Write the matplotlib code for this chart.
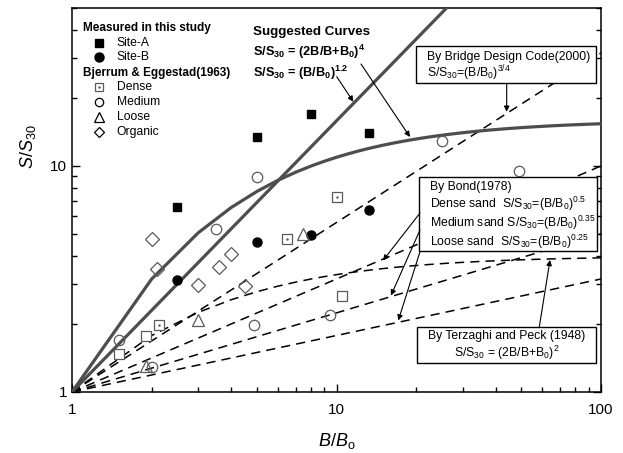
import numpy as np
import matplotlib
matplotlib.use('Agg')
import matplotlib.pyplot as plt
from matplotlib.patches import Rectangle

plt.rcParams['font.family'] = ['Liberation Sans', 'DejaVu Sans']
plt.rcParams['mathtext.fontset'] = 'custom'
plt.rcParams['mathtext.rm'] = 'Liberation Sans'
plt.rcParams['mathtext.it'] = 'Liberation Sans:italic'
plt.rcParams['mathtext.bf'] = 'Liberation Sans:bold'

site_a_x = [2.5, 5.0, 8.0, 13.3]
site_a_y = [6.6, 13.4, 16.9, 14.0]
site_b_x = [2.5, 5.0, 8.0, 13.3]
site_b_y = [3.13, 4.62, 4.95, 6.39]

# Bjerrum & Eggestad (1963)
dense_x = [1.5, 1.9, 2.14, 6.48, 10.0, 10.5]
dense_y = [1.48, 1.77, 1.98, 4.76, 7.27, 2.67]
dense_dot = [False, False, True, True, True, False]
medium_x = [1.5, 2.0, 3.49, 4.89, 5.0, 9.45, 25.0, 48.9]
medium_y = [1.69, 1.29, 5.25, 1.98, 8.97, 2.19, 12.9, 9.5]
loose_x = [1.9, 3.0, 7.49]
loose_y = [1.30, 2.09, 5.0]
organic_x = [2.0, 2.09, 3.0, 3.61, 3.99, 4.52]
organic_y = [4.74, 3.49, 2.97, 3.56, 4.07, 2.94]

# curve definitions shown on the chart
suggested_exp = 1.2
suggested_pow = 4
bridge_exp = 0.75
bond_exps = [0.5, 0.35, 0.25]
terzaghi_pow = 2

bb = np.arange(1, 101).astype(float)

fig = plt.figure(figsize=(6.23, 4.53), dpi=100)
ax = fig.add_axes([0.1156, 0.1347, 0.8491, 0.8476])

GRAY = '#4d4d4d'
MGRAY = '#5a5a5a'
dash = (0, (6, 4))

# suggested curves
ax.plot(bb, bb ** suggested_exp, color=GRAY, lw=2.3, zorder=3)
ax.plot(bb, (2 * bb / (bb + 1)) ** suggested_pow, color=GRAY, lw=2.3, zorder=3)

# dashed reference curves
ax.plot(bb, bb ** bridge_exp, color='k', lw=1.1, linestyle=dash, zorder=2)
for e in bond_exps:
    ax.plot(bb, bb ** e, color='k', lw=1.1, linestyle=dash, zorder=2)
ax.plot(bb, (2 * bb / (bb + 1)) ** terzaghi_pow, color='k', lw=1.1, linestyle=dash, zorder=2)

# data points
ax.plot(site_a_x, site_a_y, 's', color='k', ms=6, zorder=4)
ax.plot(site_b_x, site_b_y, 'o', color='k', ms=6.5, zorder=4)
ax.plot(dense_x, dense_y, 's', mfc='white', mec=MGRAY, mew=0.9, ms=6.5, zorder=4)
dx = [x for x, d in zip(dense_x, dense_dot) if d]
dy = [y for y, d in zip(dense_y, dense_dot) if d]
ax.plot(dx, dy, '.', color=MGRAY, ms=1.5, zorder=5)
ax.plot(medium_x, medium_y, 'o', mfc='none', mec=MGRAY, mew=0.9, ms=7.5, zorder=4)
ax.plot(loose_x, loose_y, '^', mfc='none', mec=MGRAY, mew=0.9, ms=8, zorder=4)
ax.plot(organic_x, organic_y, 'D', mfc='none', mec=MGRAY, mew=0.9, ms=7, zorder=4)

ax.set_xscale('log')
ax.set_yscale('log')
ax.set_xlim(1, 100)
ax.set_ylim(1, 50)

ax.set_xticks([1, 10, 100])
ax.set_xticklabels(['1', '10', '100'])
ax.set_yticks([1, 10])
ax.set_yticklabels(['1', '10'])
ax.tick_params(which='both', direction='in', right=True, top=False, labelsize=11, width=1)
ax.tick_params(which='major', length=6)
ax.tick_params(which='minor', length=3.5)
ax.tick_params(axis='x', pad=8)
ax.yaxis.set_minor_formatter(matplotlib.ticker.NullFormatter())
ax.xaxis.set_minor_formatter(matplotlib.ticker.NullFormatter())
for s in ax.spines.values():
    s.set_linewidth(1.1)

ax.set_xlabel(r'$\mathit{B/B}_{\mathrm{o}}$', fontsize=13, labelpad=10)
ax.set_ylabel(r'$\mathit{S/S}_{\mathrm{30}}$', fontsize=13)
ax.yaxis.set_label_coords(-0.065, 0.64)

T = ax.transAxes

# legend (drawn by hand)
ax.text(0.0202, 0.9479, 'Measured in this study', transform=T, fontsize=8.5, fontweight='bold', va='center')
ax.plot(0.0516, 0.9089, 's', color='k', ms=6, transform=T)
ax.text(0.0845, 0.9089, 'Site-A', transform=T, fontsize=8.7, va='center')
ax.plot(0.0516, 0.8724, 'o', color='k', ms=6.5, transform=T)
ax.text(0.0845, 0.8724, 'Site-B', transform=T, fontsize=8.7, va='center')
ax.text(0.0202, 0.8307, 'Bjerrum & Eggestad(1963)', transform=T, fontsize=8.5, fontweight='bold', va='center')
ax.plot(0.0516, 0.7943, 's', mfc='white', mec=MGRAY, mew=0.9, ms=5.5, transform=T)
ax.plot(0.0516, 0.7943, '.', color=MGRAY, ms=1.5, transform=T)
ax.text(0.0845, 0.7943, 'Dense', transform=T, fontsize=8.7, va='center')
ax.plot(0.0516, 0.7552, 'o', mfc='none', mec='k', mew=0.9, ms=6, transform=T)
ax.text(0.0845, 0.7552, 'Medium', transform=T, fontsize=8.7, va='center')
ax.plot(0.0516, 0.7161, '^', mfc='none', mec='k', mew=0.9, ms=6.5, transform=T)
ax.text(0.0845, 0.7161, 'Loose', transform=T, fontsize=8.7, va='center')
ax.plot(0.0516, 0.6771, 'D', mfc='none', mec='k', mew=0.9, ms=5.5, transform=T)
ax.text(0.0845, 0.6771, 'Organic', transform=T, fontsize=8.7, va='center')

# suggested curves labels
ax.text(0.3416, 0.9375, 'Suggested Curves', transform=T, fontsize=9.6, fontweight='bold', va='center')
ax.text(0.3416, 0.8854, r'S/S$_\mathbf{30}$ = (2B/B+B$_\mathbf{0}$)$^\mathbf{4}$', transform=T,
        fontsize=9.2, fontweight='bold', va='center')
ax.text(0.3416, 0.8320, r'S/S$_\mathbf{30}$ = (B/B$_\mathbf{0}$)$^\mathbf{1.2}$', transform=T,
        fontsize=9.2, fontweight='bold', va='center')

# boxes
boxes = [(0.6503, 0.8039, 0.9905, 0.9010),
         (0.6565, 0.3672, 0.9930, 0.5607),
         (0.6527, 0.0747, 0.9905, 0.1701)]
for x0, y0, x1, y1 in boxes:
    ax.add_patch(Rectangle((x0, y0), x1 - x0, y1 - y0, transform=T, facecolor='white',
                           edgecolor='k', lw=1.0, zorder=6))

ax.text(0.6717, 0.8732, 'By Bridge Design Code(2000)', transform=T, fontsize=8.8, va='center', zorder=7)
ax.text(0.6717, 0.8299, r'S/S$_{30}$=(B/B$_0$)$^{3/4}$', transform=T, fontsize=8.8, va='center', zorder=7)

ax.text(0.6767, 0.5346, 'By Bond(1978)', transform=T, fontsize=8.8, va='center', zorder=7)
ax.text(0.6767, 0.4888, r'Dense sand  S/S$_{30}$=(B/B$_0$)$^{0.5}$', transform=T, fontsize=8.8, va='center', zorder=7)
ax.text(0.6767, 0.4409, r'Medium sand S/S$_{30}$=(B/B$_0$)$^{0.35}$', transform=T, fontsize=8.8, va='center', zorder=7)
ax.text(0.6767, 0.3914, r'Loose sand  S/S$_{30}$=(B/B$_0$)$^{0.25}$', transform=T, fontsize=8.8, va='center', zorder=7)

ax.text(0.8216, 0.1458, 'By Terzaghi and Peck (1948)', transform=T, fontsize=8.8, va='center', ha='center', zorder=7)
ax.text(0.8216, 0.1008, r'S/S$_{30}$ = (2B/B+B$_0$)$^2$', transform=T, fontsize=8.8, va='center', ha='center', zorder=7)

# arrows (tail -> head, axes fraction)
arrows = [((0.5463, 0.8542), (0.6389, 0.6641)),
          ((0.5004, 0.8211), (0.5318, 0.7560)),
          ((0.8217, 0.8039), (0.8217, 0.7299)),
          ((0.6578, 0.4661), (0.5879, 0.3424)),
          ((0.6578, 0.4219), (0.6030, 0.2513)),
          ((0.6578, 0.3654), (0.6168, 0.1862)),
          ((0.8834, 0.1701), (0.9036, 0.3438))]
for tail, head in arrows:
    ax.annotate('', xy=head, xycoords='axes fraction', xytext=tail, textcoords='axes fraction',
                arrowprops=dict(arrowstyle='-|>', color='k', lw=0.8, mutation_scale=8,
                                shrinkA=0, shrinkB=0), zorder=7)

fig.savefig('out.png', dpi=100)
